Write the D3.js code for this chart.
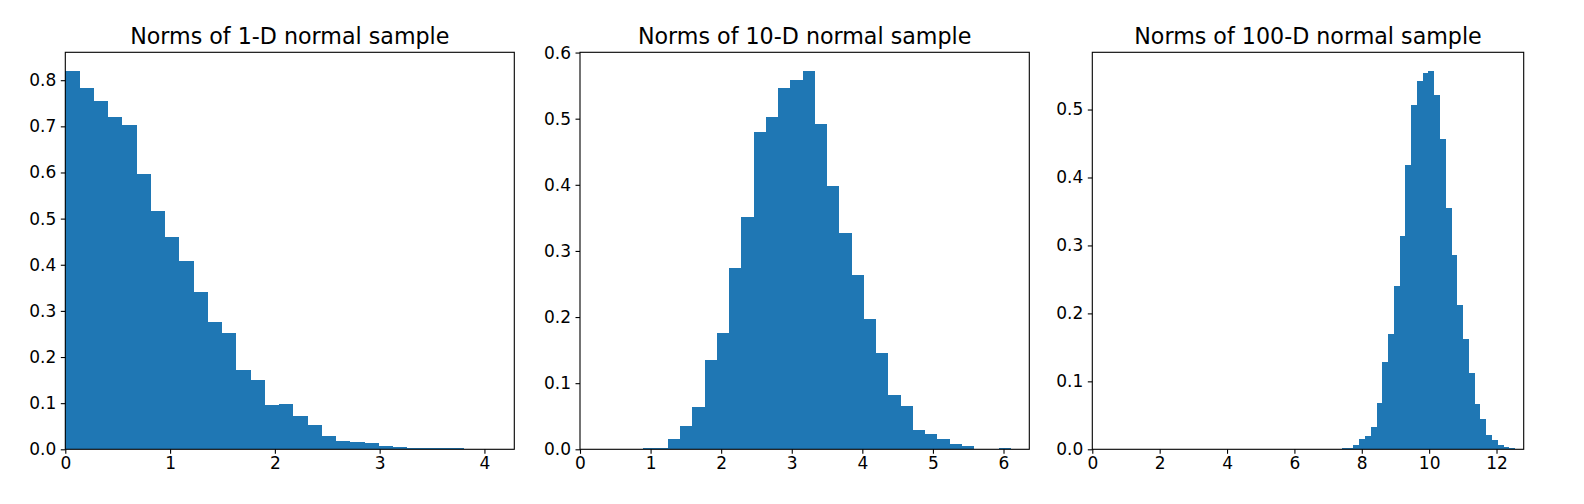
<!DOCTYPE html>
<html>
<head>
<meta charset="utf-8">
<script src="https://cdn.jsdelivr.net/npm/d3@7/dist/d3.min.js"></script>
<style>
  html, body { margin: 0; padding: 0; background: #fff; }
  svg { display: block; }
  text { font-family: "DejaVu Sans", sans-serif; fill: #000; }
</style>
</head>
<body>
<svg id="chart" width="1584" height="504"></svg>
<script>
// ---- Data ----
const titles = [
  "Norms of 1-D normal sample",
  "Norms of 10-D normal sample",
  "Norms of 100-D normal sample"
];

// Histogram 1: 30 bins over [min, max] of the sample norms
const binRange1 = [0.0, 4.081];
const density1 = [
  0.8195, 0.7827, 0.7545, 0.7199, 0.7025, 0.5964, 0.5162, 0.4599, 0.4079, 0.3408,
  0.2758, 0.2520, 0.1718, 0.1502, 0.0960, 0.0982, 0.0722, 0.0527, 0.0289, 0.0180,
  0.0159, 0.0140, 0.0072, 0.0046, 0.0025, 0.0024, 0.0023, 0.0022, 0.0000, 0.0007
];

// Histogram 2
const binRange2 = [0.897, 6.105];
const density2 = [
  0.0020, 0.0020, 0.0156, 0.0353, 0.0640, 0.1350, 0.1758, 0.2740, 0.3510, 0.4796,
  0.5023, 0.5461, 0.5582, 0.5718, 0.4917, 0.3980, 0.3270, 0.2635, 0.1970, 0.1456,
  0.0821, 0.0655, 0.0292, 0.0232, 0.0156, 0.0080, 0.0050, 0.0000, 0.0000, 0.0020
];

// Histogram 3
const binRange3 = [7.41, 12.55];
const density3 = [
  0.0020, 0.0020, 0.0064, 0.0152, 0.0196, 0.0328, 0.0681, 0.1284, 0.1696, 0.2402,
  0.3137, 0.4181, 0.5064, 0.5417, 0.5534, 0.5564, 0.5211, 0.4564, 0.3549, 0.2858,
  0.2123, 0.1623, 0.1123, 0.0667, 0.0446, 0.0211, 0.0137, 0.0064, 0.0034, 0.0020
];

const xTicks1 = [0, 1, 2, 3, 4];
const yTicks1 = [0, 0.1, 0.2, 0.3, 0.4, 0.5, 0.6, 0.7, 0.8];
const xTicks2 = [0, 1, 2, 3, 4, 5, 6];
const yTicks2 = [0, 0.1, 0.2, 0.3, 0.4, 0.5, 0.6];
const xTicks3 = [0, 2, 4, 6, 8, 10, 12];
const yTicks3 = [0, 0.1, 0.2, 0.3, 0.4, 0.5];

// ---- Layout ----
const panels = [
  { left: 65.3,   right: 514.3,  range: binRange1, dens: density1, xt: xTicks1, yt: yTicks1 },
  { left: 580.0,  right: 1029.3, range: binRange2, dens: density2, xt: xTicks2, yt: yTicks2 },
  { left: 1092.3, right: 1523.7, range: binRange3, dens: density3, xt: xTicks3, yt: yTicks3 }
];
const plotTop = 52.3, plotBottom = 449.3;
const barColor = "#1f77b4";
const tickFont = 17, titleFont = 22.2;

const svg = d3.select("#chart");
svg.append("rect").attr("width", 1584).attr("height", 504).attr("fill", "#fff");

panels.forEach((p, i) => {
  const n = p.dens.length;
  const [lo, hi] = p.range;
  const w = (hi - lo) / n;
  const bins = p.dens.map((d, k) => ({ x0: lo + k * w, x1: lo + (k + 1) * w, v: d }));

  const x = d3.scaleLinear().domain([0, hi + 0.05 * (hi - lo)]).range([p.left, p.right]);
  const y = d3.scaleLinear().domain([0, d3.max(p.dens) * 1.05]).range([plotBottom, plotTop]);

  const g = svg.append("g");

  g.append("g").selectAll("rect").data(bins).join("rect")
    .attr("x", d => x(d.x0))
    .attr("width", d => x(d.x1) - x(d.x0))
    .attr("y", d => y(d.v))
    .attr("height", d => y(0) - y(d.v))
    .attr("fill", barColor)
    .attr("shape-rendering", "crispEdges");

  const xAxis = d3.axisBottom(x).tickValues(p.xt).tickFormat(d3.format("d"))
    .tickSizeInner(4.5).tickSizeOuter(0).tickPadding(3.5);
  const yAxis = d3.axisLeft(y).tickValues(p.yt).tickFormat(d3.format(".1f"))
    .tickSizeInner(4.5).tickSizeOuter(0).tickPadding(4.5);

  const gx = g.append("g").attr("transform", `translate(0,${plotBottom})`).call(xAxis);
  const gy = g.append("g").attr("transform", `translate(${p.left},0)`).call(yAxis);
  [gx, gy].forEach(a => {
    a.select(".domain").remove();
    a.selectAll(".tick line").attr("stroke", "#000").attr("stroke-width", 1.1);
    a.selectAll(".tick text")
      .style("font-family", '"DejaVu Sans", sans-serif')
      .style("font-size", tickFont + "px")
      .attr("fill", "#000");
  });

  // spines
  g.append("rect")
    .attr("x", p.left).attr("y", plotTop)
    .attr("width", p.right - p.left).attr("height", plotBottom - plotTop)
    .attr("fill", "none").attr("stroke", "#000").attr("stroke-width", 1.1);

  g.append("text")
    .attr("x", (p.left + p.right) / 2)
    .attr("y", 44.3)
    .attr("text-anchor", "middle")
    .style("font-size", titleFont + "px")
    .text(titles[i]);
});
</script>
</body>
</html>
